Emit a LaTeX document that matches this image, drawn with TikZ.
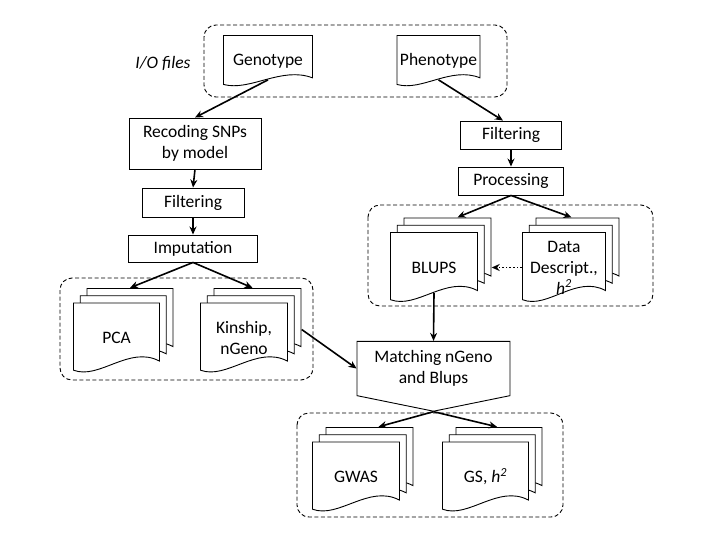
\documentclass[tikz,border=0pt]{standalone}
\usepackage{fontspec}
\setmainfont{Carlito}
\usetikzlibrary{shapes.symbols}
\usetikzlibrary{arrows.meta}
\usetikzlibrary{calc}
\tikzset{box/.style={rectangle, draw, line width=0.9pt, fill=white, align=center, inner sep=2pt}}
\tikzset{docline/.style={draw=black, fill=white, line width=0.9pt}}
\tikzset{doc/.style={rectangle, inner sep=0pt, align=center, minimum height=71pt,
  path picture={
    \path (path picture bounding box.north west) ++(0.5pt,-0.5pt) coordinate (dnw)
          (path picture bounding box.south east) ++(-0.5pt,0.5pt) coordinate (dse);
    \filldraw[docline] let \p1=(dnw), \p2=(dse) in
      (\x1,\y1) -- (\x2,\y1) -- (\x2,{\y1-0.83*(\y1-\y2)})
      .. controls ({\x1+0.65*(\x2-\x1)},{\y1-0.6*(\y1-\y2)}) and ({\x1+0.3*(\x2-\x1)},{\y1-1.1*(\y1-\y2)}) .. (\x1,{\y1-0.96*(\y1-\y2)}) -- cycle;
  }}}
\tikzset{group/.style={draw, dash pattern=on 4pt off 2.5pt, line width=0.9pt, rounded corners=12pt}}
\tikzset{flow/.style={-{Stealth[length=8pt,width=7pt]}, line width=1.6pt}}
\tikzset{matchbox/.style={signal, signal to=south, signal from=nowhere, signal pointer angle=157, draw, line width=0.9pt, fill=white, align=center}}

\begin{document}
\begin{tikzpicture}[x=1pt,y=-1pt,font=\fontsize{17.5}{21}\selectfont]
  \useasboundingbox (0,0) rectangle (720,540);
  % dashed groups
  \draw[group] (204,25) rectangle (507,97);
  \draw[group] (368,205) rectangle (653,306);
  \draw[group] (60,278) rectangle (313,380);
  \draw[group] (297,413) rectangle (563,517);
  % input files
  \node[anchor=east] (iolab) at (194,63) {\textit{I/O files}};
  \node[doc, minimum width=90pt, minimum height=52pt] (geno) at (268,61) {Genotype};
  \node[doc, minimum width=84pt, minimum height=52pt] (pheno) at (438.5,61) {Phenotype};
  % genotype side
  \node[box, minimum width=132pt, minimum height=51pt] (recode) at (195,143.5) {Recoding SNPs\\by model};
  \node[box, minimum width=102pt, minimum height=29pt] (filtL) at (193,202.5) {Filtering};
  \node[box, minimum width=129pt, minimum height=27pt] (imput) at (193,248.5) {Imputation};
  % phenotype side
  \node[box, minimum width=101pt, minimum height=28pt] (filtR) at (511,135) {Filtering};
  \node[box, minimum width=105pt, minimum height=28pt] (proc) at (511,181) {Processing};
  % stacked outputs
  \foreach \nm/\px/\py/\w/\txt in {
    pca/116.5/338/87/PCA,
    kin/244/338/88/{Kinship,\\nGeno},
    blups/434/267.5/88/BLUPS,
    data/564/267.5/84/{Data\\Descript.,\\\textit{h\textsuperscript{2}}},
    gwas/356/477/88/GWAS,
    gs/485.5/477/87/{GS, \textit{h\textsuperscript{2}}}%
  } {
    \foreach \k in {2,1} {
      \node[doc, minimum width=\w pt] (\nm\k) at ({\px+6.75*\k},{\py-7.25*\k}) {};
    }
    \node[doc, minimum width=\w pt] (\nm) at (\px,\py) {\txt};
  }
  \node[matchbox, minimum width=153pt, minimum height=67pt] (match) at (433.5,368.5) {Matching nGeno\\and Blups};
  % connectors
  \draw[flow] ($(geno.north)!0.86!(geno.south)$) -- (recode.north);
  \draw[flow] ($(pheno.north)!0.86!(pheno.south)$) -- ([xshift=-8pt]filtR.north);
  \draw[flow] (recode.south) -- (filtL.north);
  \draw[flow] (filtL.south) -- (imput.north);
  \draw[flow] (imput.south) -- (pca2.north);
  \draw[flow] (imput.south) -- ([xshift=-5pt]kin2.north);
  \draw[flow] (filtR.south) -- (proc.north);
  \draw[flow] (proc.south) -- ([xshift=10pt]blups2.north);
  \draw[flow] (proc.south) -- ([xshift=-6pt]data2.north);
  \draw[flow, dotted] (data.west) -- (blups2.east |- data.west);
  \draw[flow] ($(blups.north)!0.86!(blups.south)$) -- (match.north);
  \draw[flow] ([yshift=-6pt]kin2.east) -- (match.west);
  \draw[flow] (match.south) -- ([xshift=9pt]gwas2.north);
  \draw[flow] (match.south) -- ([xshift=-2pt]gs2.north);
\end{tikzpicture}
\end{document}
